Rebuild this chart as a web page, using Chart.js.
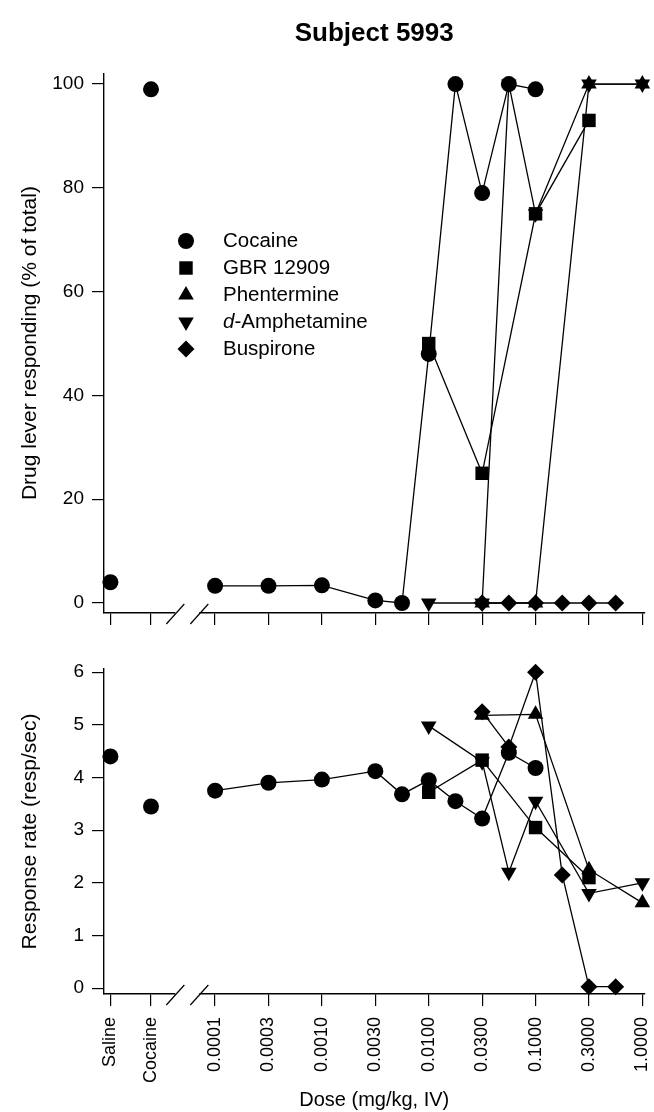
<!DOCTYPE html>
<html>
<head>
<meta charset="utf-8">
<title>Subject 5993</title>
<script src="https://cdn.jsdelivr.net/npm/chart.js@4.4.1/dist/chart.umd.min.js"></script>
<style>
  html, body { margin: 0; padding: 0; background: #fff; overflow: hidden; }
  #wrap { position: relative; width: 654px; height: 1112px; }
  #pctChart { position: absolute; left: 0; top: 0; }
  #rateChart { position: absolute; left: 0; top: 640px; }
</style>
</head>
<body>
<div id="wrap">
  <canvas id="pctChart" width="654" height="640"></canvas>
  <canvas id="rateChart" width="654" height="472"></canvas>
</div>
<script>
// ---- data ----
const controlLabels = ["Saline", "Cocaine"];
const controlPos = [-4.98, -4.6]; // control columns, placed left of the axis break
const doseTickLabels = ["0.0001", "0.0003", "0.0010", "0.0030", "0.0100", "0.0300", "0.1000", "0.3000", "1.0000"];
const pctTicks = [0, 20, 40, 60, 80, 100];
const rateTicks = [0, 1, 2, 3, 4, 5, 6];

const controlPct = [4, 99];
const controlRate = [4.4, 3.45];

const cocaineDoses = [0.0001, 0.0003, 0.001, 0.003, 0.0056, 0.01, 0.017, 0.03, 0.056, 0.1];
const cocainePct = [3.3, 3.3, 3.4, 0.5, 0, 48, 100, 79, 100, 99];
const cocaineRate = [3.75, 3.9, 3.96, 4.12, 3.68, 3.95, 3.55, 3.22, 4.47, 4.18];

const gbrDoses = [0.01, 0.03, 0.1, 0.3];
const gbrPct = [50, 25, 75, 93];
const gbrRate = [3.72, 4.33, 3.05, 2.1];

const phentermineDoses = [0.03, 0.1, 0.3, 1];
const phenterminePct = [0, 0, 100, 100];
const phentermineRate = [5.18, 5.2, 2.25, 1.62];

const amphDoses = [0.01, 0.03, 0.056, 0.1, 0.3, 1];
const amphPct = [0, 0, 100, 75, 100, 100];
const amphRate = [4.98, 4.3, 2.2, 3.55, 1.8, 2.0];

const buspironeDoses = [0.03, 0.056, 0.1, 0.17, 0.3, 0.56];
const buspironePct = [0, 0, 0, 0, 0, 0];
const buspironeRate = [5.25, 4.58, 6.0, 2.15, 0.03, 0.03];

// doses run in quarter-log steps, ticks at half-log steps
const logPos = d => Math.round(Math.log10(d) * 4) / 4;

const xTickValues = [...controlPos, ...doseTickLabels.map(l => logPos(parseFloat(l)))];
const xTickText = [...controlLabels, ...doseTickLabels];

const FONT = "'Liberation Sans', Arial, Helvetica, sans-serif";
Chart.defaults.font.family = FONT;
Chart.defaults.color = "#000";

const series = [
  { name: [["Cocaine", false]], doses: cocaineDoses, pct: cocainePct, rate: cocaineRate, style: "circle", rot: 0, r: 8 },
  { name: [["GBR 12909", false]], doses: gbrDoses, pct: gbrPct, rate: gbrRate, style: "rect", rot: 0, r: 9.5 },
  { name: [["Phentermine", false]], doses: phentermineDoses, pct: phenterminePct, rate: phentermineRate, style: "triangle", rot: 0, r: 9 },
  { name: [["d", true], ["-Amphetamine", false]], doses: amphDoses, pct: amphPct, rate: amphRate, style: "triangle", rot: 180, r: 9 },
  { name: [["Buspirone", false]], doses: buspironeDoses, pct: buspironePct, rate: buspironeRate, style: "rectRot", rot: 0, r: 8.5 },
];

const buildSets = (key, controlValues) => {
  const sets = series.map(s => ({
    label: s.name.map(p => p[0]).join(""),
    data: s.doses.map((d, i) => ({ x: logPos(d), y: s[key][i] })),
    showLine: true,
    borderColor: "#000",
    borderWidth: 1.3,
    backgroundColor: "#000",
    pointBackgroundColor: "#000",
    pointStyle: s.style,
    rotation: s.rot,
    pointRadius: s.r,
    pointBorderWidth: 0,
    pointHoverRadius: s.r,
    clip: false,
  }));
  sets.push({
    label: "controls",
    data: controlPos.map((x, i) => ({ x, y: controlValues[i] })),
    showLine: false,
    backgroundColor: "#000",
    pointBackgroundColor: "#000",
    pointStyle: "circle",
    pointRadius: 8,
    pointBorderWidth: 0,
    clip: false,
  });
  return sets.reverse(); // first series ends up drawn last
};

// axis break "//" between the control columns and the dose range
const axisBreak = {
  id: "axisBreak",
  afterDraw(chart) {
    const { ctx, scales: { x } } = chart;
    const c = x.getPixelForValue(-4.26);
    const y0 = chart.chartArea.bottom;
    ctx.save();
    ctx.fillStyle = "#fff";
    ctx.fillRect(c - 12, y0 - 2, 24, 4);
    ctx.strokeStyle = "#000";
    ctx.lineWidth = 1.2;
    [-12, 12].forEach(dx => {
      ctx.beginPath();
      ctx.moveTo(c + dx - 9, y0 + 11);
      ctx.lineTo(c + dx + 9, y0 - 9);
      ctx.stroke();
    });
    ctx.restore();
  },
};

const pointLegend = {
  id: "pointLegend",
  afterDraw(chart) {
    const { ctx } = chart;
    const mx = 186, tx = 223, y0 = 241, step = 27;
    ctx.save();
    ctx.fillStyle = "#000";
    ctx.strokeStyle = "#000";
    ctx.textBaseline = "middle";
    series.forEach((s, i) => {
      const y = y0 + i * step;
      Chart.helpers.drawPoint(ctx, { pointStyle: s.style, rotation: s.rot, radius: s.r, borderWidth: 0 }, mx, y);
      let x = tx;
      s.name.forEach(([txt, it]) => {
        ctx.font = (it ? "italic " : "") + "20.5px " + FONT;
        ctx.fillText(txt, x, y);
        x += ctx.measureText(txt).width;
      });
    });
    ctx.restore();
  },
};

const xAxis = (showLabels, height) => ({
  type: "linear",
  min: -5.04,
  max: 0.02,
  afterBuildTicks: s => { s.ticks = xTickValues.map(v => ({ value: v })); },
  ticks: {
    display: showLabels,
    autoSkip: false,
    minRotation: 90,
    maxRotation: 90,
    padding: 11,
    font: { size: 18 },
    callback: (v, i) => xTickText[i],
  },
  grid: { drawOnChartArea: false, drawTicks: true, tickLength: 12, color: "#000", lineWidth: 1.2 },
  border: { display: true, color: "#000", width: 1.4 },
  title: {
    display: showLabels,
    text: "Dose (mg/kg, IV)",
    font: { size: 20 },
    padding: { top: 0, bottom: 0 },
  },
  afterFit: s => {
    s.height = height;
    s.paddingLeft = 0;
    s.paddingRight = 0;
  },
});

const yAxis = (min, max, ticks, title) => ({
  type: "linear",
  min: min,
  max: max,
  afterBuildTicks: s => { s.ticks = ticks.map(v => ({ value: v })); },
  ticks: { padding: 8, font: { size: 19 } },
  grid: { drawOnChartArea: false, drawTicks: true, tickLength: 12, color: "#000", lineWidth: 1.2 },
  border: { display: true, color: "#000", width: 1.4 },
  title: { display: true, text: title, font: { size: 21 }, padding: { top: 18, bottom: 0 } },
  afterFit: s => { s.width = 104; },
});

new Chart(document.getElementById("pctChart"), {
  type: "scatter",
  data: { datasets: buildSets("pct", controlPct) },
  options: {
    responsive: false,
    animation: false,
    layout: { padding: { right: 9 } },
    plugins: {
      legend: { display: false },
      tooltip: { enabled: false },
      title: {
        display: true,
        text: "Subject 5993",
        fullSize: false,
        font: { size: 26, weight: "bold" },
        color: "#000",
        padding: { top: 18, bottom: 24 },
      },
    },
    scales: {
      x: xAxis(false, 27),
      y: yAxis(-1.93, 102.1, pctTicks, "Drug lever responding (% of total)"),
    },
  },
  plugins: [axisBreak, pointLegend],
});

new Chart(document.getElementById("rateChart"), {
  type: "scatter",
  data: { datasets: buildSets("rate", controlRate) },
  options: {
    responsive: false,
    animation: false,
    layout: { padding: { top: 29, right: 9 } },
    plugins: {
      legend: { display: false },
      tooltip: { enabled: false },
    },
    scales: {
      x: xAxis(true, 118),
      y: yAxis(-0.11, 6.06, rateTicks, "Response rate (resp/sec)"),
    },
  },
  plugins: [axisBreak],
});
</script>
</body>
</html>
